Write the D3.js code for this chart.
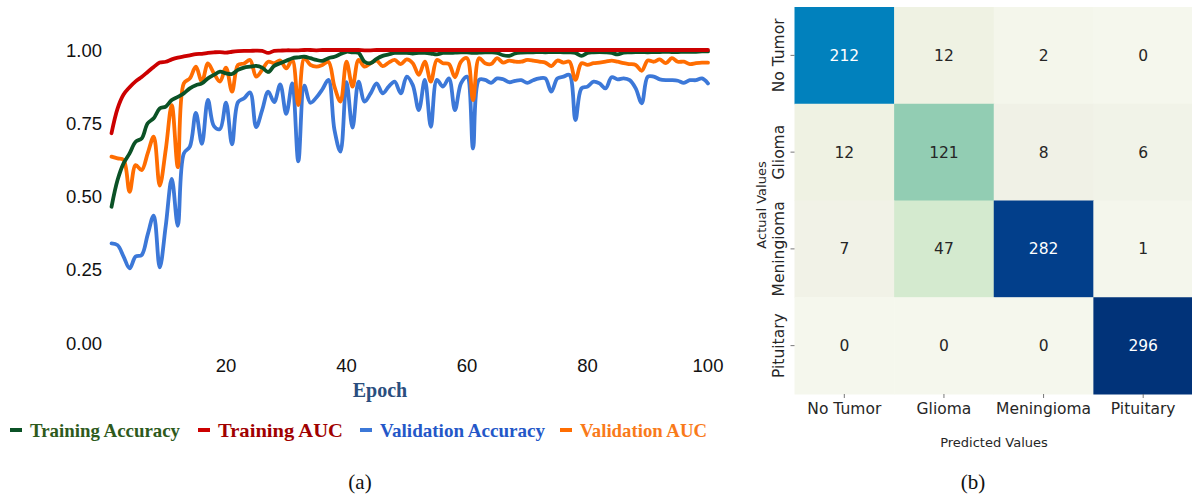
<!DOCTYPE html>
<html>
<head>
<meta charset="utf-8">
<script src="https://cdn.jsdelivr.net/npm/d3@7"></script>
<style>
  html, body { margin: 0; padding: 0; background: #ffffff; }
  svg { display: block; }
</style>
</head>
<body>
<svg id="fig" width="1192" height="499"></svg>
<script>
// ---------- training curves (panel a) ----------
const epochs = d3.range(1, 101);

const trainAcc = [
  0.465, 0.556, 0.613, 0.647, 0.687, 0.698, 0.750, 0.767, 0.800, 0.807,
  0.829, 0.840, 0.852, 0.869, 0.880, 0.886, 0.903, 0.915, 0.926, 0.920,
  0.918, 0.932, 0.940, 0.943, 0.946, 0.940, 0.925, 0.946, 0.955, 0.963,
  0.972, 0.975, 0.977, 0.972, 0.966, 0.963, 0.972, 0.977, 0.986, 0.994,
  0.992, 0.990, 0.960, 0.955, 0.970, 0.980, 0.985, 0.990, 0.990, 0.990,
  0.988, 0.990, 0.990, 0.988, 0.985, 0.990, 0.990, 0.991, 0.992, 0.992,
  0.990, 0.991, 0.992, 0.992, 0.990, 0.982, 0.980, 0.988, 0.991, 0.992,
  0.992, 0.993, 0.992, 0.993, 0.993, 0.992, 0.992, 0.990, 0.980, 0.990,
  0.992, 0.993, 0.992, 0.990, 0.985, 0.991, 0.992, 0.993, 0.993, 0.992,
  0.993, 0.993, 0.994, 0.993, 0.993, 0.994, 0.994, 0.994, 0.995, 0.995
];

const trainAuc = [
  0.716, 0.800, 0.848, 0.873, 0.893, 0.908, 0.925, 0.942, 0.957, 0.960,
  0.968, 0.974, 0.978, 0.982, 0.986, 0.987, 0.990, 0.992, 0.993, 0.991,
  0.994, 0.996, 0.997, 0.997, 0.998, 0.997, 0.990, 0.997, 0.998, 0.999,
  0.999, 0.999, 1.000, 1.000, 0.999, 1.000, 1.000, 1.000, 1.000, 1.000,
  1.000, 1.000, 0.999, 0.999, 1.000, 1.000, 1.000, 1.000, 1.000, 1.000,
  1.000, 1.000, 1.000, 1.000, 1.000, 1.000, 1.000, 1.000, 1.000, 1.000,
  1.000, 1.000, 1.000, 1.000, 1.000, 1.000, 1.000, 1.000, 1.000, 1.000,
  1.000, 1.000, 1.000, 1.000, 1.000, 1.000, 1.000, 1.000, 1.000, 1.000,
  1.000, 1.000, 1.000, 1.000, 1.000, 1.000, 1.000, 1.000, 1.000, 1.000,
  1.000, 1.000, 1.000, 1.000, 1.000, 1.000, 1.000, 1.000, 1.000, 1.000
];

const valAcc = [
  0.340, 0.334, 0.295, 0.255, 0.295, 0.300, 0.370, 0.435, 0.258, 0.400,
  0.560, 0.400, 0.647, 0.670, 0.785, 0.680, 0.830, 0.740, 0.730, 0.820,
  0.678, 0.822, 0.835, 0.855, 0.737, 0.795, 0.858, 0.822, 0.883, 0.782,
  0.886, 0.620, 0.878, 0.820, 0.838, 0.866, 0.898, 0.727, 0.653, 0.890,
  0.735, 0.892, 0.824, 0.852, 0.886, 0.852, 0.875, 0.892, 0.852, 0.909,
  0.880, 0.795, 0.898, 0.738, 0.898, 0.875, 0.903, 0.795, 0.886, 0.909,
  0.664, 0.898, 0.898, 0.888, 0.903, 0.900, 0.890, 0.895, 0.897, 0.888,
  0.897, 0.903, 0.903, 0.858, 0.903, 0.909, 0.915, 0.761, 0.869, 0.875,
  0.892, 0.886, 0.869, 0.907, 0.900, 0.903, 0.897, 0.869, 0.818, 0.909,
  0.909, 0.900, 0.897, 0.897, 0.895, 0.888, 0.897, 0.897, 0.903, 0.886
];

const valAuc = [
  0.636, 0.630, 0.625, 0.516, 0.607, 0.590, 0.647, 0.704, 0.537, 0.660,
  0.812, 0.600, 0.886, 0.903, 0.943, 0.892, 0.954, 0.920, 0.892, 0.940,
  0.858, 0.949, 0.954, 0.966, 0.909, 0.932, 0.960, 0.955, 0.964, 0.937,
  0.966, 0.812, 0.972, 0.949, 0.943, 0.949, 0.960, 0.875, 0.824, 0.960,
  0.875, 0.966, 0.943, 0.955, 0.964, 0.945, 0.957, 0.966, 0.952, 0.968,
  0.955, 0.915, 0.960, 0.892, 0.966, 0.955, 0.952, 0.907, 0.960, 0.972,
  0.829, 0.972, 0.955, 0.952, 0.972, 0.957, 0.964, 0.960, 0.960, 0.966,
  0.964, 0.960, 0.957, 0.945, 0.964, 0.957, 0.960, 0.898, 0.955, 0.949,
  0.955, 0.957, 0.960, 0.964, 0.960, 0.955, 0.952, 0.949, 0.929, 0.964,
  0.960, 0.968, 0.955, 0.972, 0.960, 0.960, 0.952, 0.955, 0.957, 0.957
];

const seriesNames = ["Training Accuracy", "Training AUC", "Validation Accuracy", "Validation AUC"];
const lineColors  = ["#0b5226", "#cc0000", "#3c78d8", "#ff6d01"];
const labelColors = ["#2e5a1c", "#a00000", "#2457c8", "#f97a1a"];

const yTicks = [0, 0.25, 0.5, 0.75, 1];
const xTicks = [20, 40, 60, 80, 100];

// ---------- confusion matrix (panel b) ----------
const classes = ["No Tumor", "Glioma", "Meningioma", "Pituitary"];
const matrix = [
  [212, 12, 2, 0],
  [12, 121, 8, 6],
  [7, 47, 282, 1],
  [0, 0, 0, 296]
];

const svg = d3.select("#fig");

// ===== panel (a) =====
const x = d3.scaleLinear().domain([0, 100]).range([105.5, 708]);
const y = d3.scaleLinear().domain([0, 1]).range([343, 50]);

const gA = svg.append("g");

gA.selectAll("text.ytick")
  .data(yTicks)
  .join("text")
  .attr("class", "ytick")
  .attr("x", 102)
  .attr("y", d => y(d))
  .attr("dy", "0.36em")
  .attr("text-anchor", "end")
  .attr("font-family", "Liberation Sans, Arial, sans-serif")
  .attr("font-size", 18.5)
  .attr("fill", "#111")
  .text(d3.format(".2f"));

gA.selectAll("text.xtick")
  .data(xTicks)
  .join("text")
  .attr("class", "xtick")
  .attr("x", d => x(d))
  .attr("y", 365)
  .attr("dy", "0.36em")
  .attr("text-anchor", "middle")
  .attr("font-family", "Liberation Sans, Arial, sans-serif")
  .attr("font-size", 18.5)
  .attr("fill", "#111")
  .text(d => d);

gA.append("text")
  .attr("x", 380)
  .attr("y", 390)
  .attr("dy", "0.36em")
  .attr("text-anchor", "middle")
  .attr("font-family", "Liberation Serif, Times New Roman, serif")
  .attr("font-weight", "bold")
  .attr("font-size", 20)
  .attr("fill", "#2a4e7e")
  .text("Epoch");

const line = d3.line()
  .x((d, i) => x(epochs[i]))
  .y(d => y(d))
  .curve(d3.curveCatmullRom.alpha(0.5));

// draw order: validation first, training on top
const drawOrder = [
  { data: valAcc, color: lineColors[2] },
  { data: valAuc, color: lineColors[3] },
  { data: trainAcc, color: lineColors[0] },
  { data: trainAuc, color: lineColors[1] }
];

gA.selectAll("path.series")
  .data(drawOrder)
  .join("path")
  .attr("class", "series")
  .attr("d", d => line(d.data))
  .attr("fill", "none")
  .attr("stroke", d => d.color)
  .attr("stroke-width", 3.8)
  .attr("stroke-linejoin", "round")
  .attr("stroke-linecap", "round");

// legend: swatch x offsets and label widths
const legendX = [10, 198, 360, 560];
const legendTextWidth = [150, 125, 165, 127];
const legend = gA.selectAll("g.leg")
  .data(seriesNames)
  .join("g")
  .attr("class", "leg")
  .attr("transform", (d, i) => `translate(${legendX[i]},430)`);

legend.append("rect")
  .attr("x", 0).attr("y", -2)
  .attr("width", 12).attr("height", 4)
  .attr("fill", (d, i) => lineColors[i]);

legend.append("text")
  .attr("x", 20)
  .attr("y", 0)
  .attr("dy", "0.36em")
  .attr("font-family", "Liberation Serif, Times New Roman, serif")
  .attr("font-weight", "bold")
  .attr("font-size", 19.5)
  .attr("textLength", (d, i) => legendTextWidth[i])
  .attr("lengthAdjust", "spacingAndGlyphs")
  .attr("fill", (d, i) => labelColors[i])
  .text(d => d);

svg.append("text")
  .attr("x", 360).attr("y", 481)
  .attr("dy", "0.36em")
  .attr("text-anchor", "middle")
  .attr("font-family", "Liberation Serif, Times New Roman, serif")
  .attr("font-size", 21)
  .attr("fill", "#111")
  .text("(a)");

// ===== panel (b) =====
const gx = d3.scaleBand().domain(classes).range([794.5, 1193]);
const gy = d3.scaleBand().domain(classes).range([7, 394]);

const color = d3.scaleLinear()
  .domain([0, 8, 12, 47, 121, 212, 282, 296])
  .range(["#f5f7ed", "#f0f1e6", "#eff2e3", "#d4eacf", "#92cdb3", "#0181bd", "#023f8b", "#013379"])
  .interpolate(d3.interpolateRgb);

const cells = [];
matrix.forEach((row, r) => row.forEach((v, c) => cells.push({ r: classes[r], c: classes[c], v })));

const gB = svg.append("g");

gB.selectAll("rect.cell")
  .data(cells)
  .join("rect")
  .attr("class", "cell")
  .attr("x", d => gx(d.c))
  .attr("y", d => gy(d.r))
  .attr("width", gx.bandwidth() + 0.5)
  .attr("height", gy.bandwidth() + 0.5)
  .attr("fill", d => color(d.v));

gB.selectAll("text.val")
  .data(cells)
  .join("text")
  .attr("class", "val")
  .attr("x", d => gx(d.c) + gx.bandwidth() / 2)
  .attr("y", d => gy(d.r) + gy.bandwidth() / 2)
  .attr("dy", "0.36em")
  .attr("text-anchor", "middle")
  .attr("font-family", "DejaVu Sans, sans-serif")
  .attr("font-size", 15.5)
  .attr("fill", d => d.v > 150 ? "#ffffff" : "#262626")
  .text(d => d.v);

// x axis ticks and labels
const xAxisG = gB.append("g");
xAxisG.selectAll("line")
  .data(classes)
  .join("line")
  .attr("x1", d => gx(d) + gx.bandwidth() / 2)
  .attr("x2", d => gx(d) + gx.bandwidth() / 2)
  .attr("y1", 394).attr("y2", 398)
  .attr("stroke", "#555").attr("stroke-width", 0.8);
xAxisG.selectAll("text")
  .data(classes)
  .join("text")
  .attr("x", d => gx(d) + gx.bandwidth() / 2)
  .attr("y", 408)
  .attr("dy", "0.36em")
  .attr("text-anchor", "middle")
  .attr("font-family", "DejaVu Sans, sans-serif")
  .attr("font-size", 15.5)
  .attr("fill", "#262626")
  .text(d => d);

// y axis ticks and labels
const yAxisG = gB.append("g");
yAxisG.selectAll("line")
  .data(classes)
  .join("line")
  .attr("x1", 790.5).attr("x2", 794.5)
  .attr("y1", d => gy(d) + gy.bandwidth() / 2)
  .attr("y2", d => gy(d) + gy.bandwidth() / 2)
  .attr("stroke", "#555").attr("stroke-width", 0.8);
yAxisG.selectAll("text")
  .data(classes)
  .join("text")
  .attr("transform", d => `translate(778,${gy(d) + gy.bandwidth() / 2}) rotate(-90)`)
  .attr("dy", "0.36em")
  .attr("text-anchor", "middle")
  .attr("font-family", "DejaVu Sans, sans-serif")
  .attr("font-size", 15.5)
  .attr("fill", "#262626")
  .text(d => d);

gB.append("text")
  .attr("x", 994)
  .attr("y", 442)
  .attr("dy", "0.36em")
  .attr("text-anchor", "middle")
  .attr("font-family", "DejaVu Sans, sans-serif")
  .attr("font-size", 13)
  .attr("fill", "#262626")
  .text("Predicted Values");

gB.append("text")
  .attr("transform", "translate(761,205) rotate(-90)")
  .attr("dy", "0.36em")
  .attr("text-anchor", "middle")
  .attr("font-family", "DejaVu Sans, sans-serif")
  .attr("font-size", 13)
  .attr("fill", "#262626")
  .text("Actual Values");

svg.append("text")
  .attr("x", 973).attr("y", 481)
  .attr("dy", "0.36em")
  .attr("text-anchor", "middle")
  .attr("font-family", "Liberation Serif, Times New Roman, serif")
  .attr("font-size", 21)
  .attr("fill", "#111")
  .text("(b)");
</script>
</body>
</html>
